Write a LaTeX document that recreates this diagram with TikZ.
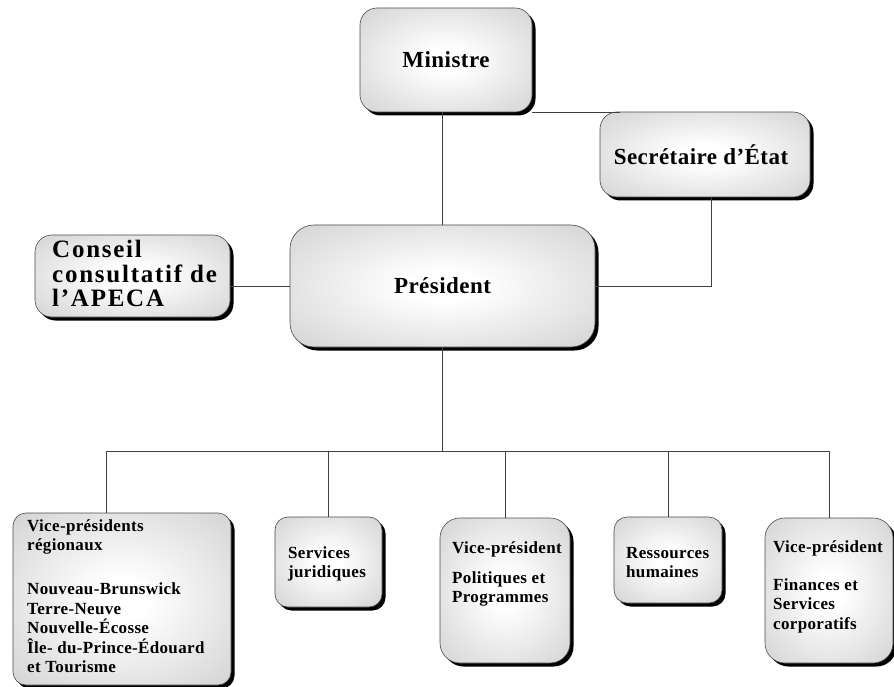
\documentclass[tikz,border=0pt]{standalone}
\usepackage{fontspec}
\setmainfont{Liberation Serif}[LetterSpace=2]
\newfontfamily\widefont{Liberation Serif}[LetterSpace=7]
\pgfdeclareradialshading{boxshade}{\pgfpoint{0bp}{0bp}}{color(0bp)=(white); color(6bp)=(white); color(32bp)=(black!15); color(50bp)=(black!26)}
\begin{document}
\begin{tikzpicture}[x=1pt,y=-1pt,
  box/.style={rounded corners=17pt, draw=black!70, line width=0.6pt,
    shading=boxshade,
    preaction={fill=black, transform canvas={shift={(3.5pt,-3.5pt)}}},
    font=\bfseries\fontsize{23}{26}\selectfont, align=center},
  smallbox/.style={box, rounded corners=13pt},
  txt/.style={anchor=base west, inner sep=0pt, font=\bfseries\fontsize{17}{19.5}\selectfont},
  conn/.style={draw=black!75, line width=0.8pt}]
\useasboundingbox (0,0) rectangle (894,687);

% top boxes
\node[box, minimum width=172pt, minimum height=104pt] (min) at (446,60) {Ministre};
\node[box, minimum width=210pt, minimum height=85pt] (sec) at (705,154.5) {\hspace*{-8pt}Secrétaire d’État};
\node[box, minimum width=195pt, minimum height=82pt] (con) at (132.5,276) {};
\node[box, rounded corners=24pt, minimum width=305pt, minimum height=122pt] (pre) at (442.5,286) {Président};

% bottom boxes
\node[smallbox, minimum width=218pt, minimum height=172pt] (b1) at (122,599) {};
\node[smallbox, minimum width=107pt, minimum height=90pt] (b2) at (328.5,562) {};
\node[smallbox, rounded corners=20pt, minimum width=130pt, minimum height=145pt] (b3) at (505,590.5) {};
\node[smallbox, minimum width=108pt, minimum height=86pt] (b4) at (668,560) {};
\node[smallbox, rounded corners=20pt, minimum width=128pt, minimum height=145pt] (b5) at (829,590.5) {};

% texts
\node[txt, font=\bfseries\widefont\fontsize{25}{25}\selectfont] (tcon) at (52,257)
  {\parbox[t]{200pt}{Conseil\\consultatif de\\l’APECA}};
\node[txt] (tb1) at (27,531)
  {\parbox[t]{210pt}{Vice-présidents\\régionaux\\[24.5pt]Nouveau-Brunswick\\Terre-Neuve\\Nouvelle-Écosse\\Île- du-Prince-Édouard\\et Tourisme}};
\node[txt] (tb2) at (288,558) {\parbox[t]{100pt}{Services\\juridiques}};
\node[txt] (tb3) at (452,553) {\parbox[t]{120pt}{Vice-président\\[10.5pt]Politiques et\\Programmes}};
\node[txt] (tb4) at (626,558) {\parbox[t]{100pt}{Ressources\\humaines}};
\node[txt] (tb5) at (773,552) {\parbox[t]{120pt}{Vice-président\\[18.5pt]Finances et\\Services\\corporatifs}};

% connectors
\coordinate (bus) at (442.5,451);
\path[conn] (pre.north) -- (pre.north |- min.south);
\path[conn] (min.south east) -- ([xshift=20pt]sec.north west |- min.south east);
\path[conn] ([xshift=6pt]sec.south) |- (pre.east);
\path[conn] (pre.west) -- (pre.west -| con.east);
\path[conn] (pre.south) -- (bus);
\path[conn] ([xshift=-16pt]b1.north) |- (b5.north |- bus) -- (b5.north);
\path[conn] (b2.north) -- (b2.north |- bus);
\path[conn] (b3.north) -- (b3.north |- bus);
\path[conn] (b4.north) -- (b4.north |- bus);
\end{tikzpicture}
\end{document}
